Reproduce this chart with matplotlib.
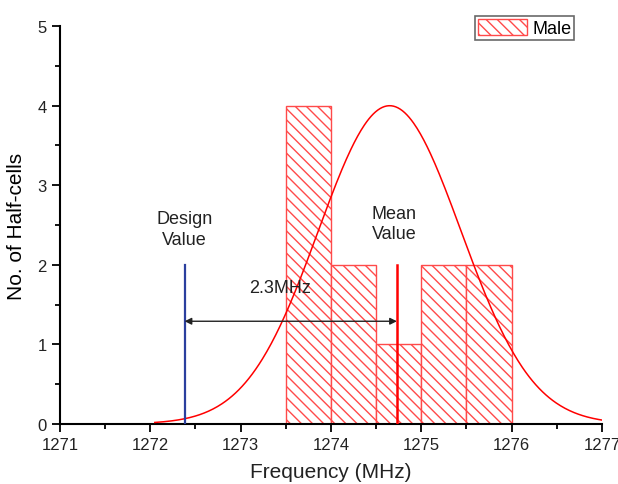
import numpy as np
import matplotlib.pyplot as plt
from matplotlib.ticker import MultipleLocator

plt.rcParams['font.family'] = ['Liberation Sans', 'DejaVu Sans']

# histogram bins (MHz) and counts
bin_left = [1273.5, 1274.0, 1274.5, 1275.0, 1275.5]
bin_width = 0.5
counts = [4, 2, 1, 2, 2]

# fitted normal curve
fit_mean = 1274.65
fit_sigma = 0.79
fit_peak = 4.0
fit_range = (1272.05, 1277.0)

design_value = 1272.38
mean_value = 1274.73
marker_height = 2

fig = plt.figure(figsize=(6.18, 4.85), dpi=100)
ax = fig.add_axes([0.097, 0.124, 0.877, 0.820])

ax.bar(bin_left, counts, width=bin_width, align='edge', color='white',
       edgecolor='#ff4a4a', linewidth=1.0, hatch='\\\\\\', label='Male', zorder=2)

xs = np.linspace(fit_range[0], fit_range[1], 400)
ys = fit_peak * np.exp(-(xs - fit_mean) ** 2 / (2 * fit_sigma ** 2))
ax.plot(xs, ys, color='red', lw=1.1, zorder=3)

ax.plot([design_value, design_value], [0, marker_height], color='#2b3f9e', lw=1.6, zorder=4)
ax.plot([mean_value, mean_value], [0, marker_height], color='red', lw=1.8, zorder=4)

ax.annotate('', xy=(design_value, 1.29), xytext=(mean_value, 1.29),
            arrowprops=dict(arrowstyle='<|-|>', color='#222222', lw=1.0,
                            mutation_scale=10, shrinkA=0, shrinkB=0), zorder=5)
ax.text(1273.44, 1.71, '2.3MHz', fontsize=13, color='#222222', ha='center', va='center')
ax.text(1272.38, 2.45, 'Design\nValue', fontsize=13, color='#222222', ha='center',
        va='center', linespacing=1.25)
ax.text(1274.70, 2.52, 'Mean\nValue', fontsize=13, color='#222222', ha='center',
        va='center', linespacing=1.25)

ax.set_xlim(1271, 1277)
ax.set_ylim(0, 5)
ax.xaxis.set_major_locator(MultipleLocator(1))
ax.xaxis.set_minor_locator(MultipleLocator(0.5))
ax.yaxis.set_major_locator(MultipleLocator(1))
ax.yaxis.set_minor_locator(MultipleLocator(0.5))
ax.tick_params(which='major', direction='out', length=6, width=1.3, labelsize=12,
               colors='black', labelcolor='#222222')
ax.tick_params(which='minor', direction='out', length=3.5, width=1.3)

for side in ['top', 'right']:
    ax.spines[side].set_visible(False)
for side in ['left', 'bottom']:
    ax.spines[side].set_linewidth(1.5)

ax.set_xlabel('Frequency (MHz)', fontsize=15, color='#222222', labelpad=7)
ax.set_ylabel('No. of Half-cells', fontsize=15, color='black', labelpad=8)

leg = ax.legend(loc='upper right', bbox_to_anchor=(0.955, 1.035), fontsize=13,
                frameon=True, fancybox=False, edgecolor='#444444',
                handlelength=2.7, handleheight=1.0, borderpad=0.15, handletextpad=0.3,
                borderaxespad=0.2)
leg.get_frame().set_linewidth(1.2)

fig.savefig('out.png', dpi=100)
